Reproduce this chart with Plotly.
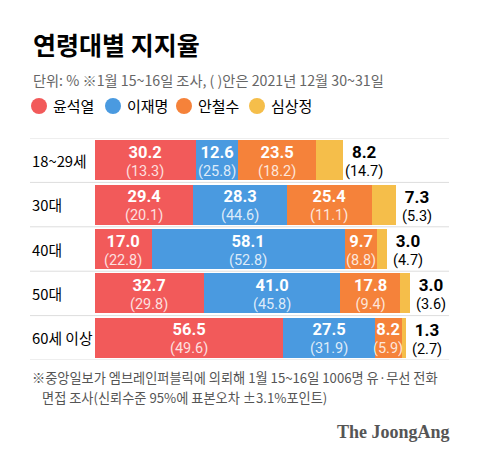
import plotly.graph_objects as go

groups = ["18~29세", "30대", "40대", "50대", "60세 이상"]
candidates = ["윤석열", "이재명", "안철수", "심상정"]
colors = ["#F25A5A", "#4A9AE0", "#F5823A", "#F5BE4A"]

yoon = [30.2, 29.4, 17.0, 32.7, 56.5]
lee = [12.6, 28.3, 58.1, 41.0, 27.5]
ahn = [23.5, 25.4, 9.7, 17.8, 8.2]
sim = [8.2, 7.3, 3.0, 3.0, 1.3]

yoon_prev = [13.3, 20.1, 22.8, 29.8, 49.6]
lee_prev = [25.8, 44.6, 52.8, 45.8, 31.9]
ahn_prev = [18.2, 11.1, 8.8, 9.4, 5.9]
sim_prev = [14.7, 5.3, 4.7, 3.6, 2.7]

series = [yoon, lee, ahn, sim]
prevs = [yoon_prev, lee_prev, ahn_prev, sim_prev]

FONT = "Noto Sans CJK KR"
NUMFONT = "Roboto"
OFF = 8  # page body margin
W, H = 472, 453
TOP, BOT = 138 - OFF, 360 - OFF
PXU = 3.33  # pixels per percent

def py(p):
    return (BOT - (p - OFF)) / (BOT - TOP)

def px(p):
    return (p - OFF) / W

x0 = -(95 - OFF) / PXU
x1 = x0 + W / PXU

yidx = list(range(len(groups)))

fig = go.Figure()
for name, vals, col in zip(candidates, series, colors):
    fig.add_trace(go.Bar(
        y=yidx, x=vals, orientation="h", name=name,
        marker=dict(color=col, line=dict(width=0)),
        width=0.9, hoverinfo="skip", showlegend=False,
    ))

annotations = []
shapes = []

for i in yidx:
    cum = 0.0
    for k in range(4):
        v = series[k][i]
        pv = prevs[k][i]
        if k < 3:
            xc = cum + v / 2
            annotations.append(dict(
                x=xc, y=i, xref="x", yref="y", yshift=-1,
                text=(f"<b><span style='font-size:16.5px'>{v:.1f}</span></b><br>"
                      f"<span style='font-size:14.5px;color:rgba(255,255,255,0.82)'>({pv:.1f})</span>"),
                showarrow=False,
                font=dict(family=NUMFONT, size=13.5, color="white"),
                xanchor="center", yanchor="middle"))
        else:
            end = cum + v
            annotations.append(dict(
                x=end, y=i, xref="x", yref="y", xshift=21, yshift=-1,
                text=(f"<b><span style='font-size:17px'>{v:.1f}</span></b><br>"
                      f"<span style='font-size:14.5px'>({pv:.1f})</span>"),
                showarrow=False,
                font=dict(family=NUMFONT, size=13.5, color="black"),
                xanchor="center", yanchor="middle"))
        cum += v
    annotations.append(dict(
        x=px(30), y=i, xref="paper", yref="y",
        text=groups[i], showarrow=False,
        font=dict(family=FONT, size=14.8, color="black"),
        xanchor="left", yanchor="middle"))

for j in range(len(groups) + 1):
    shapes.append(dict(
        type="line", xref="paper", yref="y",
        x0=px(30), x1=px(449), y0=j - 0.5, y1=j - 0.5,
        line=dict(color="#DDDDDD", width=1)))

annotations.append(dict(
    x=px(31), y=py(44), xref="paper", yref="paper",
    text="<b>연령대별 지지율</b>", showarrow=False,
    font=dict(family=FONT, size=25, color="black"),
    xanchor="left", yanchor="middle"))
annotations.append(dict(
    x=px(31), y=py(80), xref="paper", yref="paper",
    text="단위: % ※1월 15~16일 조사, ( )안은 2021년 12월 30~31일", showarrow=False,
    font=dict(family=FONT, size=14.2, color="#666666"),
    xanchor="left", yanchor="middle"))

leg_x = [39, 113, 184, 257]
for name, col, lx in zip(candidates, colors, leg_x):
    shapes.append(dict(
        type="circle", xref="paper", yref="paper",
        xsizemode="pixel", ysizemode="pixel",
        xanchor=px(lx), yanchor=py(106),
        x0=-8, x1=8, y0=-8, y1=8,
        fillcolor=col, line=dict(width=0)))
    annotations.append(dict(
        x=px(lx + 12), y=py(106), xref="paper", yref="paper",
        text=name, showarrow=False,
        font=dict(family=FONT, size=15, color="black"),
        xanchor="left", yanchor="middle"))

annotations.append(dict(
    x=px(30), y=py(377), xref="paper", yref="paper",
    text="※중앙일보가 엠브레인퍼블릭에 의뢰해 1월 15~16일 1006명 유·무선 전화", showarrow=False,
    font=dict(family=FONT, size=13.2, color="#555555"),
    xanchor="left", yanchor="middle"))
annotations.append(dict(
    x=px(40), y=py(397), xref="paper", yref="paper",
    text="면접 조사(신뢰수준 95%에 표본오차 ±3.1%포인트)", showarrow=False,
    font=dict(family=FONT, size=13.2, color="#555555"),
    xanchor="left", yanchor="middle"))

annotations.append(dict(
    x=px(452), y=py(432), xref="paper", yref="paper",
    text="<b>The JoongAng</b>", showarrow=False,
    font=dict(family="Liberation Serif", size=18, color="#555555"),
    xanchor="right", yanchor="middle"))

fig.update_layout(
    width=W, height=H,
    margin=dict(l=0, r=0, t=TOP, b=H - BOT, pad=0),
    barmode="stack",
    plot_bgcolor="white", paper_bgcolor="white",
    xaxis=dict(range=[x0, x1], visible=False, fixedrange=True),
    yaxis=dict(range=[4.5, -0.5], visible=False, fixedrange=True),
    annotations=annotations, shapes=shapes,
    showlegend=False,
)

fig.write_html("out.html")
